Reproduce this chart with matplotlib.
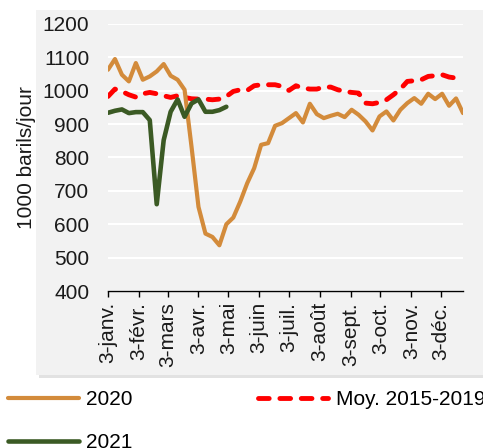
import pandas as pd
import matplotlib.pyplot as plt
from matplotlib.patches import Rectangle

plt.rcParams['font.family'] = ['Liberation Sans', 'DejaVu Sans']

# weekly data, starting Jan 3
weeks = pd.date_range("2020-01-03", periods=52, freq="7D")

y2020 = [1063, 1095, 1048, 1028, 1083, 1033, 1043, 1058, 1080, 1045,
         1033, 1003, 832, 652, 572, 562, 537, 600, 620, 668,
         723, 768, 838, 843, 895, 903, 918, 933, 905, 961,
         930, 918, 925, 931, 921, 943, 928, 908, 881, 923,
         938, 911, 943, 963, 978, 961, 991, 975, 991, 955,
         977, 933]

y2021 = [934, 940, 944, 933, 936, 936, 912, 660, 852, 937,
         974, 922, 962, 974, 937, 937, 942, 952]

moy = [983, 1005, 998, 988, 981, 991, 995, 991, 985, 980,
       985, 980, 976, 975, 975, 973, 975, 983, 998, 1003,
       1001, 1015, 1018, 1018, 1018, 1013, 1001, 1015, 1008, 1005,
       1005, 1011, 1011, 1003, 998, 995, 993, 963, 961, 965,
       973, 988, 1005, 1028, 1030, 1033, 1043, 1045, 1048, 1041,
       1038, 1028]

month_ticks = pd.date_range("2020-01-01", periods=12, freq="MS") + pd.Timedelta(days=2)
month_labels = ["3-janv.", "3-févr.", "3-mars", "3-avr.", "3-mai", "3-juin",
                "3-juil.", "3-août", "3-sept.", "3-oct.", "3-nov.", "3-déc."]

fs = 15
fig = plt.figure(figsize=(4.83, 4.48), dpi=100)

# grey panel with a light shadow
fig.patches.append(Rectangle((39/483, 1 - 378/448), 1, 366/448, transform=fig.transFigure,
                             facecolor="#d0d0d0", edgecolor="none", alpha=0.6, zorder=-2))
fig.patches.append(Rectangle((36/483, 1 - 375/448), 1, 365/448, transform=fig.transFigure,
                             facecolor="#f2f2f2", edgecolor="none", zorder=-1))

ax = fig.add_axes([108/483, (448-291)/448, 355/483, 267/448])
ax.set_zorder(1)
ax.set_facecolor("none")

ax.plot(weeks, moy, color="#ff0000", lw=3.5, dashes=(2.2, 2.2),
        dash_capstyle="round", label="Moy. 2015-2019", zorder=3)
ax.plot(weeks, y2020, color="#d38b3b", lw=3.0, solid_capstyle="round",
        solid_joinstyle="round", label="2020", zorder=4)
ax.plot(weeks[:len(y2021)], y2021, color="#3b5a24", lw=3.3, solid_capstyle="round",
        solid_joinstyle="round", label="2021", zorder=5)

ax.set_ylim(400, 1200)
ax.set_yticks(range(400, 1201, 100))
ax.set_xlim(weeks[0], weeks[-1])
ax.set_xticks(month_ticks)
ax.set_xticklabels(month_labels, rotation=90)

ax.grid(axis="y", color="white", lw=1.5)
ax.set_axisbelow(True)
for s in ["top", "right", "left"]:
    ax.spines[s].set_visible(False)
ax.spines["bottom"].set_linewidth(1.0)
ax.tick_params(axis="y", length=0, pad=13.5, labelsize=fs, labelcolor="#1a1a1a")
ax.tick_params(axis="x", length=4.5, width=1.0, pad=3.5, labelsize=fs, labelcolor="#1a1a1a")
ax.set_ylabel("1000 barils/jour", fontsize=fs, color="#1a1a1a")
ax.yaxis.set_label_coords(-0.204, 0.50)

h, l = ax.get_legend_handles_labels()
order = [1, 2, 0]
fig.legend([h[i] for i in order], [l[i] for i in order], ncol=2,
           loc="upper left", bbox_to_anchor=(8/483, 1 - 390/448),
           frameon=False, fontsize=fs, handlelength=3.4, handletextpad=0.35,
           columnspacing=6.0, labelspacing=1.15, borderpad=0, borderaxespad=0)

fig.savefig("out.png", dpi=100)
